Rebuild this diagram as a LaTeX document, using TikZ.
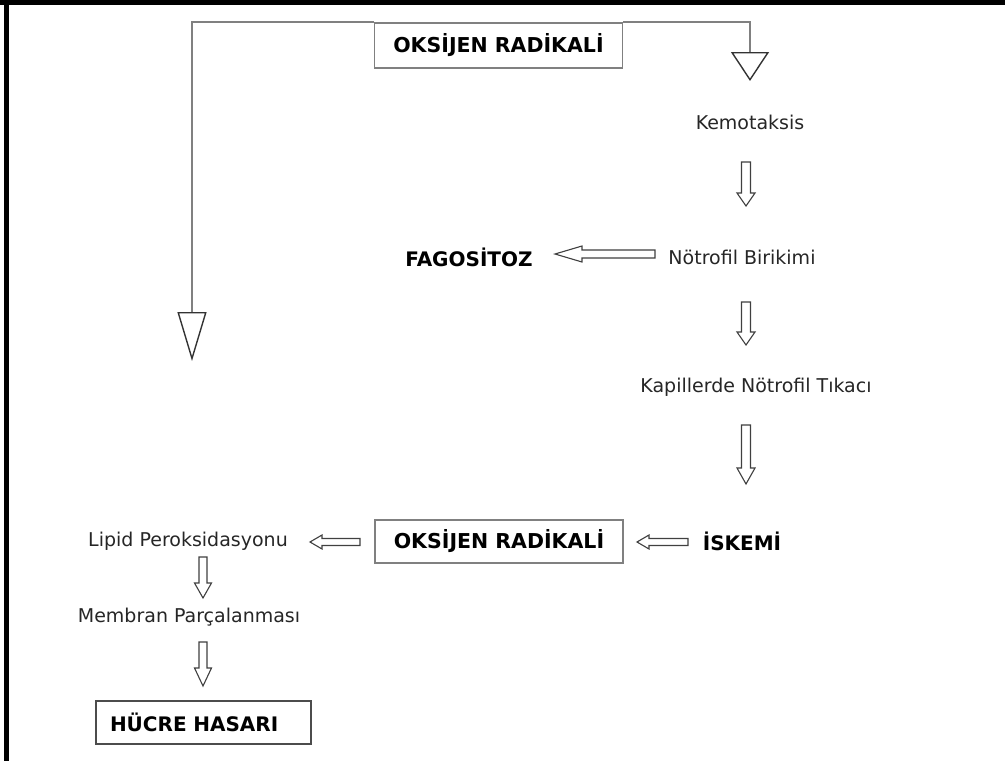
\documentclass[tikz,border=0pt]{standalone}
\usepackage{fontspec}
\setmainfont{DejaVu Sans}
\usetikzlibrary{arrows.meta,calc}
\tikzset{
  bs/.store in=\bs, bh/.store in=\bh, bl/.store in=\bl,
  bs=4.5, bh=9, bl=13,
  blk/.style={draw=black!75, line width=1.1pt, fill=white, line join=miter},
  downblock/.style={blk, to path={let \p1=(\tikztostart),\p2=(\tikztotarget) in
    (\x1-\bs pt,\y1) -- (\x1+\bs pt,\y1) -- (\x1+\bs pt,\y2+\bl pt) -- (\x1+\bh pt,\y2+\bl pt)
    -- (\x1,\y2) -- (\x1-\bh pt,\y2+\bl pt) -- (\x1-\bs pt,\y2+\bl pt) -- cycle}},
  leftblock/.style={blk, to path={let \p1=(\tikztostart),\p2=(\tikztotarget) in
    (\x1,\y1-\bs pt) -- (\x1,\y1+\bs pt) -- (\x2+\bl pt,\y1+\bs pt) -- (\x2+\bl pt,\y1+\bh pt)
    -- (\x2,\y1) -- (\x2+\bl pt,\y1-\bh pt) -- (\x2+\bl pt,\y1-\bs pt) -- cycle}},
  txt/.style={font=\fontsize{19}{22}\selectfont, text=black!85, inner sep=0pt},
  btxt/.style={font=\fontsize{20}{24}\selectfont\bfseries, text=black, inner sep=0pt},
  box/.style={draw=black!50, line width=1.6pt, fill=white, font=\fontsize{20.5}{24}\selectfont\bfseries, inner sep=0pt},
  conn/.style={draw=black!50, line width=1.6pt},
}
\begin{document}
\begin{tikzpicture}[x=1pt,y=-1pt]
\useasboundingbox (0,0) rectangle (1005,761);
\fill[white] (0,0) rectangle (1005,761);
% frame
\fill[black] (0,0) rectangle (1005,4.5);
\fill[black] (4,0) rectangle (8.5,761);

% nodes
\node[box, minimum width=248pt, minimum height=45pt] (ox1) at (498.5,45.5) {OKSİJEN RADİKALİ};
\node[txt] (kemo) at (750,122) {Kemotaksis};
\node[txt] (notb) at (742,257) {Nötrofil Birikimi};
\node[btxt] (fago) at (469,257) {FAGOSİTOZ};
\node[txt] (kap) at (756,387) {Kapillerde Nötrofil Tıkacı};
\node[box, minimum width=248pt, minimum height=43pt] (ox2) at (499,541.5) {OKSİJEN RADİKALİ};
\node[btxt] (isk) at (742,541) {İSKEMİ};
\node[txt] (lipid) at (188,541) {Lipid Peroksidasyonu};
\node[txt] (memb) at (189,617) {Membran Parçalanması};
\node[box, draw=black!70, minimum width=215pt, minimum height=43pt, text width=187pt, align=left, font=\fontsize{20}{24}\selectfont\bfseries] (huc) at (203.5,722.5) {HÜCRE HASARI};

% loop connectors from top box
\coordinate (tipL) at (192,361);
\coordinate (tipR) at (750,81);
\draw[conn, -{Triangle[open,length=49pt,width=29pt,line width=1.4pt,color=black!80]}] (ox1.north west) -| (tipL);
\draw[conn, -{Triangle[open,length=29pt,width=38pt,line width=1.4pt,color=black!80]}] (ox1.north east) -| (tipR);

% block arrow coordinates
\coordinate (d1s) at (746,162);  \coordinate (d1e) at (746,206);
\coordinate (d2s) at (746,302);  \coordinate (d2e) at (746,345);
\coordinate (d3s) at (746,425);  \coordinate (d3e) at (746,484);
\coordinate (fs) at (655,254);   \coordinate (fe) at (555,254);
\coordinate (ls) at (360,542);   \coordinate (le) at (310,542);
\coordinate (is) at (688,542);   \coordinate (ie) at (637,542);
\coordinate (m1s) at (203,557);  \coordinate (m1e) at (203,598);
\coordinate (m2s) at (203,642);  \coordinate (m2e) at (203,686);

\draw[downblock, bs=4.5, bh=9, bl=13] (d1s) to (d1e);
\draw[downblock, bs=4.5, bh=9, bl=13] (d2s) to (d2e);
\draw[downblock, bs=4.5, bh=9, bl=16] (d3s) to (d3e);
\draw[leftblock, bs=4, bh=8, bl=27] (fs) to (fe);
\draw[leftblock, bs=3.5, bh=7, bl=12] (ls) to (le);
\draw[leftblock, bs=3.5, bh=7, bl=12] (is) to (ie);
\draw[downblock, bs=4, bh=8.5, bl=15] (m1s) to (m1e);
\draw[downblock, bs=4, bh=8.5, bl=18] (m2s) to (m2e);
\end{tikzpicture}
\end{document}
